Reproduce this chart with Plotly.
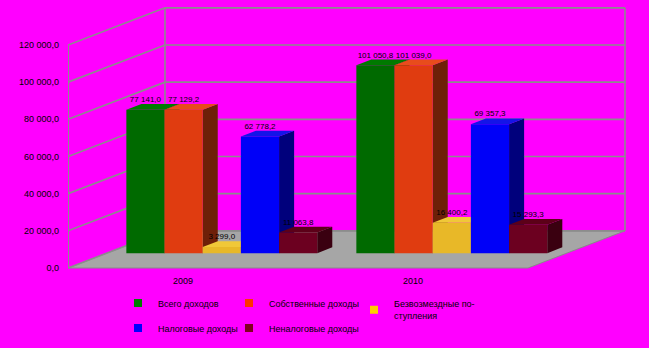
import plotly.graph_objects as go

# ---------------- data ----------------
categories = ["2009", "2010"]
series_names = [
    "Всего доходов",
    "Собственные доходы",
    "Безвозмездные по-<br>ступления",
    "Налоговые доходы",
    "Неналоговые доходы",
]
total_income = [77141.0, 101050.8]
own_income = [77129.2, 101039.0]
gratuitous_receipts = [3299.0, 16400.2]
tax_income = [62778.2, 69357.3]
nontax_income = [11063.8, 15293.3]
tick_values = [0, 20000, 40000, 60000, 80000, 100000, 120000]
tick_labels = ["0,0", "20 000,0", "40 000,0", "60 000,0", "80 000,0", "100 000,0", "120 000,0"]

series_values = [total_income, own_income, gratuitous_receipts, tax_income, nontax_income]

# (front, side, top) colours per series
series_colors = [
    ("#006A00", "#003A00", "#007A00"),
    ("#E03C10", "#6E2008", "#E84C1C"),
    ("#E8B828", "#8C6C10", "#F0C838"),
    ("#0000F8", "#00007C", "#1414E8"),
    ("#6C0020", "#3A0010", "#5C0018"),
]
legend_colors = ["#008000", "#FF3300", "#FFCC00", "#0000FF", "#800020"]

# ---------------- geometry (pseudo 3-D projection) ----------------
W, H = 649, 348
ML = 68
PX_PER_CAT = 230.0
ZERO_PX, TOP_PX = 268.0, 45.0
K = (ZERO_PX - TOP_PX) / 120000.0          # px per value unit
DX = 97.0 / PX_PER_CAT                     # depth shift along x (category units)
DY = 20000.0                               # depth shift along y (value units)
F1 = 0.40                                  # depth of bar front faces
BD = 0.155                                 # bar depth (fraction of full depth)
BAR_W = 0.166
NCAT = len(categories)

fmt = lambda v: f"{v:,.1f}".replace(",", " ").replace(".", ",")

fig = go.Figure()

def poly(xs, ys, color, line_color=None, lw=0):
    fig.add_trace(go.Scatter(
        x=xs + [xs[0]], y=ys + [ys[0]], mode="lines", fill="toself",
        fillcolor=color, line=dict(color=line_color or color, width=lw),
        hoverinfo="skip", showlegend=False))

# floor
poly([0, NCAT, NCAT + DX, DX], [0, 0, DY, DY], "#A6A6A6", "#8A8A8A", 1)

# grid: front diagonals + back wall horizontals
gx, gy = [], []
for v in tick_values:
    gx += [0, DX, NCAT + DX, None]
    gy += [v, v + DY, v + DY, None]
top = tick_values[-1]
gx += [DX, DX, None, NCAT + DX, NCAT + DX, None]
gy += [DY, top + DY, None, DY, top + DY, None]
fig.add_trace(go.Scatter(x=gx, y=gy, mode="lines", line=dict(color="#8C8C8C", width=1.6),
                         hoverinfo="skip", showlegend=False))
# front vertical axis line
fig.add_trace(go.Scatter(x=[0, 0], y=[0, top], mode="lines", line=dict(color="#8C8C8C", width=2),
                         hoverinfo="skip", showlegend=False))

# bars
ddx, ddy = BD * DX, BD * DY
base = F1 * DY
lab_x, lab_y, lab_t = [], [], []
nser = len(series_values)
for i in range(NCAT):
    for j, vals in enumerate(series_values):
        v = vals[i]
        xl = i + 0.5 + (j - nser / 2) * BAR_W + F1 * DX
        xr = xl + BAR_W
        t = base + v
        front, side, topc = series_colors[j]
        poly([xr, xr + ddx, xr + ddx, xr], [base, base + ddy, t + ddy, t], side)
        poly([xl, xr, xr + ddx, xl + ddx], [t, t, t + ddy, t + ddy], topc)
        poly([xl, xr, xr, xl], [base, base, t, t], front)
        lab_x.append((xl + xr) / 2)
        lab_y.append(t + ddy)
        lab_t.append(fmt(v))

fig.add_trace(go.Scatter(x=lab_x, y=lab_y, mode="text", text=lab_t, textposition="top center",
                         textfont=dict(size=8, color="black"), hoverinfo="skip", showlegend=False))

# category labels
for i, c in enumerate(categories):
    fig.add_annotation(x=i + 0.5, y=0, text=c, showarrow=False, yanchor="top", yshift=-6,
                       font=dict(size=9, color="black"))

# legends (one per item to reproduce the grid of the original)
legend_pos = [(142, 303), (253, 303), (378, 310), (142, 328), (253, 328)]
layout_legends = {}
for j, name in enumerate(series_names):
    key = "legend" if j == 0 else f"legend{j + 1}"
    fig.add_trace(go.Scatter(x=[None], y=[None], mode="markers", name=name,
                             marker=dict(symbol="square", size=8, color=legend_colors[j]),
                             legend=key, showlegend=True))
    px, py = legend_pos[j]
    layout_legends[key] = dict(
        x=(px - 24 - ML) / (W - ML), y=1 - py / H, xanchor="left", yanchor="middle",
        bgcolor="rgba(0,0,0,0)", font=dict(size=9, color="black"),
        borderwidth=0, itemclick=False, itemdoubleclick=False)

fig.update_layout(
    width=W, height=H,
    margin=dict(l=ML, r=0, t=0, b=0),
    paper_bgcolor="#FF00FF", plot_bgcolor="#FF00FF",
    font=dict(family="Liberation Sans, Arial, sans-serif", size=9, color="black"),
    xaxis=dict(visible=False, range=[0, (W - ML) / PX_PER_CAT], fixedrange=True),
    yaxis=dict(range=[-(H - ZERO_PX) / K, ZERO_PX / K], tickvals=tick_values, ticktext=tick_labels,
               showgrid=False, zeroline=False, showline=False, ticks="", ticklabelstandoff=8,
               tickfont=dict(size=9, color="black"), fixedrange=True),
    hovermode=False,
    **layout_legends,
)

fig.write_html("out.html")
